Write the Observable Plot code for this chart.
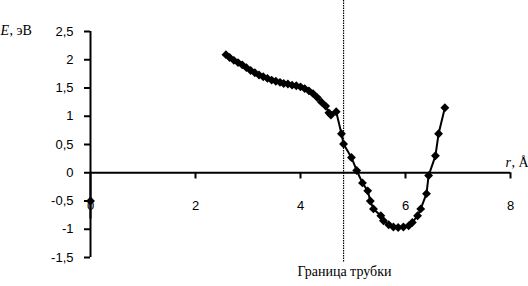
<!DOCTYPE html>
<html><head><meta charset="utf-8">
<script src="https://cdn.jsdelivr.net/npm/d3@7"></script>
<script src="https://cdn.jsdelivr.net/npm/@observablehq/plot@0.6"></script>
<style>body{margin:0;background:#fff;}</style>
</head><body><div id="chart"></div>
<script>
const rValues = [2.58,2.65,2.73,2.81,2.89,2.97,3.05,3.13,3.21,3.29,3.37,3.45,3.53,3.61,3.68,3.76,3.84,3.92,4.00,4.08,4.16,4.24,4.32,4.40,4.48,4.54,4.58,4.68,4.78,4.82,4.97,5.07,5.18,5.28,5.33,5.39,5.53,5.58,5.68,5.77,5.86,5.96,6.06,6.13,6.23,6.29,6.40,6.44,6.57,6.63,6.75];
const eValues = [2.09,2.04,1.99,1.95,1.91,1.86,1.81,1.77,1.73,1.70,1.67,1.64,1.62,1.60,1.58,1.57,1.55,1.54,1.52,1.49,1.45,1.40,1.33,1.25,1.18,1.06,1.02,1.08,0.69,0.51,0.27,0.04,-0.18,-0.32,-0.50,-0.64,-0.76,-0.85,-0.92,-0.96,-0.97,-0.96,-0.94,-0.88,-0.76,-0.64,-0.37,-0.05,0.30,0.69,1.15];
const strayR = [0, 0, 0];
const strayE = [0, -0.5, -0.8];
const strayMarker = [false, true, false];
const boundaryR = [4.82];
const xTicks = [0, 2, 4, 6, 8];
const yTicks = [-1.5, -1, -0.5, 0, 0.5, 1, 1.5, 2, 2.5];

const curve = rValues.map((r, i) => ({r, e: eValues[i]}));
const stray = strayR.map((r, i) => ({r, e: strayE[i], m: strayMarker[i]}));
const fmt = d => String(d).replace(".", ",");
const serif = "'Liberation Serif', 'DejaVu Serif', serif";
const sans = "'Liberation Sans', Arial, sans-serif";

const plot = Plot.plot({
  width: 528, height: 286,
  marginLeft: 90, marginRight: 18, marginTop: 31, marginBottom: 29,
  x: {domain: [0, 8]},
  y: {domain: [-1.5, 2.5]},
  style: {background: "#fff", color: "#000"},
  marks: [
    Plot.axisY({ticks: yTicks, tickSize: 6, tickPadding: 11, tickFormat: fmt, fontSize: 13, fontFamily: sans, strokeWidth: 2, label: null}),
    Plot.axisX({ticks: [], label: null, tickSize: 0}),
    Plot.ruleX([0], {strokeWidth: 2}),
    Plot.ruleY([0], {x1: 0, x2: 8, strokeWidth: 2}),
    Plot.ruleX(xTicks.filter(d => d > 0), {x: d => d, y1: 0, y2: -0.11, strokeWidth: 2}),
    Plot.text(xTicks, {x: d => d, y: () => 0, dy: 33, text: d => fmt(d), fontSize: 13, fontFamily: sans}),
    Plot.ruleX(boundaryR, {x: d => d, insetTop: -31, insetBottom: -5, strokeWidth: 1.2, strokeDasharray: "1.5,1"}),
    Plot.line(stray, {x: "r", y: "e", strokeWidth: 2}),
    Plot.dot(stray.filter(d => d.m), {x: "r", y: "e", symbol: "diamond2", r: 4, fill: "#000"}),
    Plot.line(curve, {x: "r", y: "e", strokeWidth: 2}),
    Plot.dot(curve, {x: "r", y: "e", symbol: "diamond2", r: 4, fill: "#000"}),
    Plot.text(["E"], {frameAnchor: "top-left", dx: -90, dy: -6, textAnchor: "start", text: d => d, fontSize: 14, fontStyle: "italic", fontFamily: serif}),
    Plot.text([", эВ"], {frameAnchor: "top-left", dx: -81, dy: -6, textAnchor: "start", text: d => d, fontSize: 14, fontFamily: serif}),
    Plot.text(["r"], {frameAnchor: "top-right", dx: -5, dy: 126, textAnchor: "start", text: d => d, fontSize: 14, fontStyle: "italic", fontFamily: serif}),
    Plot.text([", Å"], {frameAnchor: "top-right", dx: 1, dy: 126, textAnchor: "start", text: d => d, fontSize: 14, fontFamily: serif}),
    Plot.text(["Граница трубки"], {frameAnchor: "bottom-left", dx: 207, dy: 18, text: d => d, fontSize: 14, fontFamily: serif})
  ]
});
document.getElementById("chart").appendChild(plot);
</script>
</body></html>
